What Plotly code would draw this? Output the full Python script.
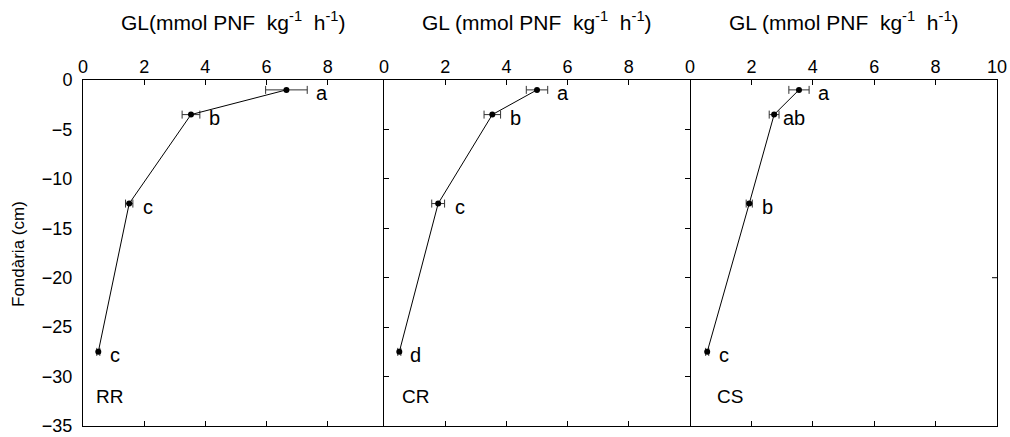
import plotly.graph_objects as go

# Soil depth (cm) of each sampled layer
depth = [-1, -3.5, -12.5, -27.5]

# GL activity (mmol PNF kg-1 h-1), mean and standard error per layer
rr_gl = [6.65, 3.53, 1.51, 0.50]
rr_err = [0.68, 0.29, 0.12, 0.05]
cr_gl = [5.00, 3.54, 1.77, 0.50]
cr_err = [0.35, 0.27, 0.21, 0.05]
cs_gl = [3.55, 2.74, 1.93, 0.56]
cs_err = [0.33, 0.16, 0.10, 0.05]

# Significance letters
rr_letters = ["a", "b", "c", "c"]
cr_letters = ["a", "b", "c", "d"]
cs_letters = ["a", "ab", "b", "c"]

panel_names = ["RR", "CR", "CS"]
x_titles = [
    "GL(mmol PNF\u00a0\u00a0kg<sup>-1</sup>\u00a0\u00a0h<sup>-1</sup>)",
    "GL (mmol PNF\u00a0\u00a0kg<sup>-1</sup>\u00a0\u00a0h<sup>-1</sup>)",
    "GL (mmol PNF\u00a0\u00a0kg<sup>-1</sup>\u00a0\u00a0h<sup>-1</sup>)",
]
y_ticks = [0, -5, -10, -15, -20, -25, -30, -35]

W, H = 1010, 437
FONT = "Liberation Sans, Arial, Helvetica, sans-serif"

# panel geometry in pixels
px_left = [83, 384, 690]
px_right = [384, 690, 997]
x_max = [9.84, 10, 10]
x_tickvals = [[0, 2, 4, 6, 8], [0, 2, 4, 6, 8], [0, 2, 4, 6, 8, 10]]
top_px, bottom_px = 80, 426
y_dom = [(H - bottom_px) / H, (H - top_px) / H]

fig = go.Figure()
series = [(rr_gl, rr_err, rr_letters), (cr_gl, cr_err, cr_letters), (cs_gl, cs_err, cs_letters)]

for i, (gl, err, letters) in enumerate(series):
    n = "" if i == 0 else str(i + 1)
    xa, ya = "x" + n, "y" + n
    fig.add_trace(go.Scatter(
        x=gl, y=depth, xaxis=xa, yaxis=ya, mode="lines+markers",
        line=dict(color="black", width=1),
        marker=dict(color="black", size=6),
        error_x=dict(type="data", array=err, color="#333333", thickness=1, width=4),
        showlegend=False, cliponaxis=False,
    ))
    for g, e, d, lab in zip(gl, err, depth, letters):
        fig.add_annotation(
            x=g + e, y=d, xref=xa, yref=ya, text=lab, showarrow=False,
            xanchor="center", xshift=15, yshift=-3,
            font=dict(size=20, color="black", family=FONT),
        )
    fig.add_annotation(
        x=0, y=-32, xref=xa, yref=ya, text=panel_names[i], showarrow=False,
        xanchor="left", xshift=[11, 16, 25][i],
        font=dict(size=19, color="black", family=FONT),
    )
    fig.add_annotation(
        x=(px_left[i] + px_right[i]) / 2 / W, y=(H - 21) / H, xref="paper", yref="paper",
        text=x_titles[i], showarrow=False, xanchor="center", yanchor="middle",
        font=dict(size=21, color="black", family=FONT),
    )

    xaxis = dict(
        domain=[px_left[i] / W, px_right[i] / W], range=[0, x_max[i]],
        side="top", anchor=ya, tickvals=x_tickvals[i], automargin=False,
        ticks="inside", ticklen=5, tickcolor="black", ticklabelstandoff=-1,
        showline=True, linecolor="black", linewidth=1, mirror="ticks",
        showgrid=False, zeroline=False,
        tickfont=dict(size=18, color="black", family=FONT),
    )
    yaxis = dict(
        domain=y_dom, range=[-35, 0], anchor=xa, tickvals=y_ticks, automargin=False,
        showline=True, linecolor="black", linewidth=1,
        showgrid=False, zeroline=False,
        tickfont=dict(size=18, color="black", family=FONT),
    )
    if i == 0:
        # left frame with labels; the right frame is the next panel's left line
        yaxis.update(ticks="", showticklabels=True, mirror=False, ticklabelstandoff=6)
    elif i == 1:
        yaxis.update(ticks="inside", ticklen=5, tickcolor="black", mirror="ticks",
                     showticklabels=False)
    else:
        # left frame is the previous panel's mirrored line
        yaxis.update(side="right", ticks="", mirror=False, showticklabels=False)
    fig.update_layout(**{"xaxis" + n: xaxis, "yaxis" + n: yaxis})

# single tick on the right frame of the last panel
fig.add_shape(type="line", xref="x3 domain", yref="y3", x0=1, x1=1 - 5 / 307,
              y0=-20, y1=-20, line=dict(color="black", width=1))

fig.add_annotation(
    x=18 / W, y=(H - 254) / H, xref="paper", yref="paper", text="Fondària (cm)",
    textangle=-90, showarrow=False, xanchor="center", yanchor="middle",
    font=dict(size=17, color="black", family=FONT),
)

fig.update_layout(
    width=W, height=H, margin=dict(l=0, r=0, t=0, b=0),
    paper_bgcolor="white", plot_bgcolor="white",
)

fig.write_html("out.html")
